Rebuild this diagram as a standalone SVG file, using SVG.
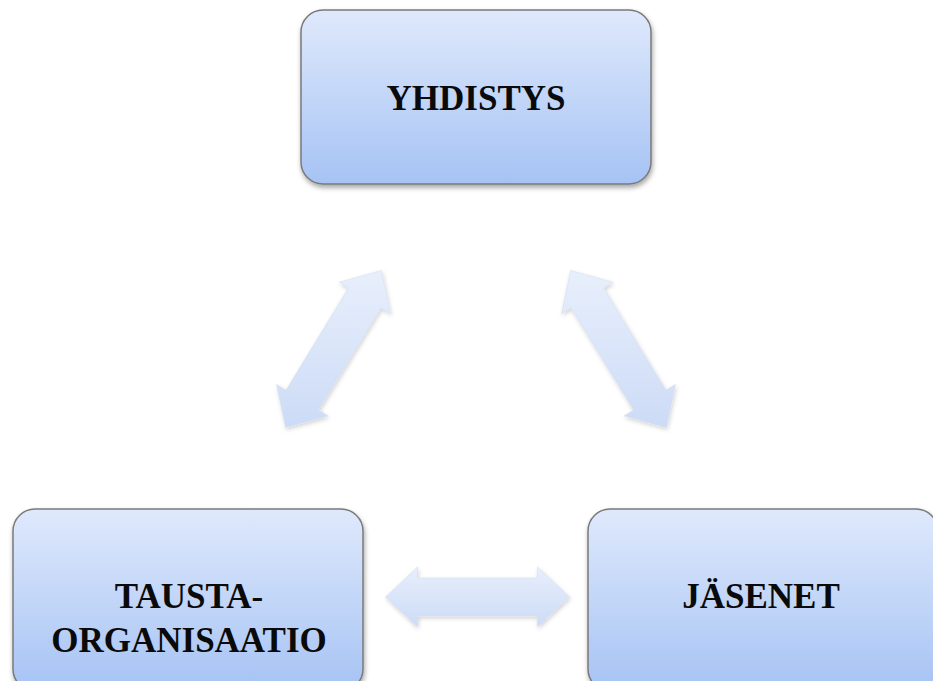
<svg xmlns="http://www.w3.org/2000/svg" width="933" height="681" viewBox="0 0 933 681">
<defs>
<linearGradient id="boxg" x1="0" y1="0" x2="0" y2="1">
<stop offset="0" stop-color="#dfe9fc"/>
<stop offset="1" stop-color="#a6c3f4"/>
</linearGradient>
<linearGradient id="arrg" x1="0" y1="0" x2="0" y2="1">
<stop offset="0" stop-color="#e8effc"/>
<stop offset="1" stop-color="#ccdbf6"/>
</linearGradient>
<filter id="sh" x="-10%" y="-10%" width="125%" height="130%">
<feDropShadow dx="1" dy="3" stdDeviation="2.5" flood-color="#000" flood-opacity="0.35"/>
</filter>
<filter id="ash" x="-20%" y="-20%" width="140%" height="140%">
<feDropShadow dx="1" dy="2" stdDeviation="2" flood-color="#000" flood-opacity="0.18"/>
</filter>
</defs>
<style>
.box{fill:url(#boxg);stroke:#7a7a7a;stroke-width:1.5;filter:url(#sh)}
.lbl{font-family:"Liberation Serif","Times New Roman",serif;font-weight:bold;font-size:35px;fill:#0a0a0a;text-anchor:middle}
.arr{fill:url(#arrg);stroke:#d3ddf2;stroke-width:0.6;filter:url(#ash)}
</style>
<rect width="933" height="681" fill="#ffffff"/>
<g id="connectors">
<polygon class="arr" points="285.6,427.5 276.6,384.6 286.0,390.3 348.5,287.9 339.2,282.2 381.4,270.5 390.4,313.4 381.0,307.7 318.5,410.1 327.9,415.9"/>
<polygon class="arr" points="666.4,427.5 675.4,384.6 666.0,390.3 603.5,287.9 612.8,282.2 570.6,270.5 561.6,313.4 571.0,307.7 633.5,410.1 624.1,415.9"/>
<polygon class="arr" points="385.5,597 417.5,567 417.5,578 537.5,578 537.5,567 569.5,597 537.5,627 537.5,616 417.5,616 417.5,627"/>
</g>
<g id="yhdistys">
<rect class="box" x="301" y="10" width="350" height="174" rx="22"/>
<text class="lbl" x="476" y="110">YHDISTYS</text>
</g>
<g id="taustaorganisaatio">
<rect class="box" x="13" y="509" width="350" height="182" rx="22"/>
<text class="lbl" x="189" y="608">TAUSTA-</text>
<text class="lbl" x="189" y="652">ORGANISAATIO</text>
</g>
<g id="jasenet">
<rect class="box" x="588" y="509" width="350" height="182" rx="22"/>
<text class="lbl" x="761" y="608">JÄSENET</text>
</g>
</svg>
